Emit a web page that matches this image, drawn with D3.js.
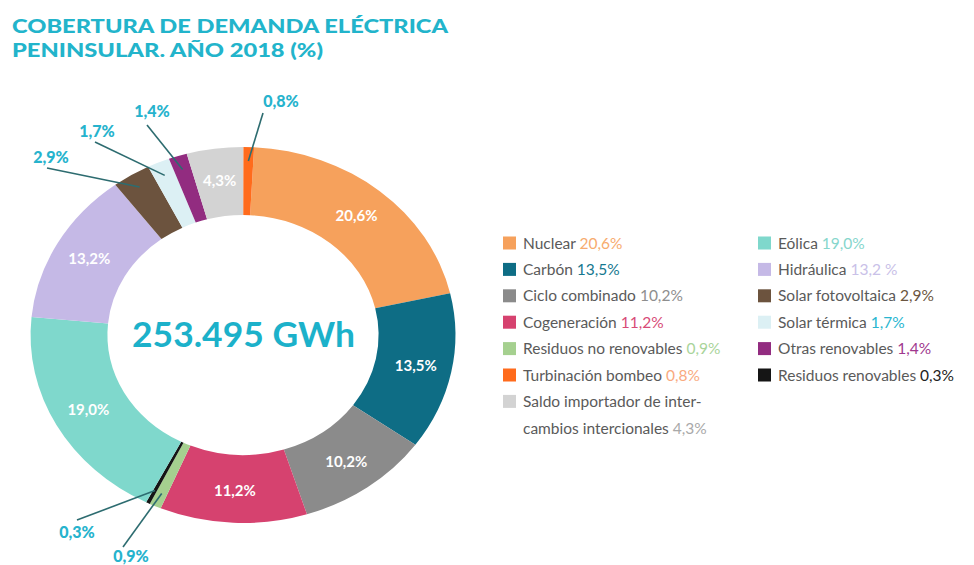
<!DOCTYPE html>
<html>
<head>
<meta charset="utf-8">
<script src="https://cdn.jsdelivr.net/npm/d3@7"></script>
<style>
  body { margin: 0; background: #fff; }
  svg { display: block; font-family: Lato, "Open Sans", sans-serif; }
</style>
</head>
<body>
<script>
// slices in drawing order (clockwise from top)
var categories = ["Nuclear", "Carbón", "Ciclo combinado", "Cogeneración", "Residuos no renovables",
    "Residuos renovables", "Eólica", "Hidráulica", "Solar fotovoltaica", "Solar térmica",
    "Otras renovables", "Saldo importador de intercambios intercionales", "Turbinación bombeo"];
var values = [20.6, 13.5, 10.2, 11.2, 0.9, 0.3, 19.0, 13.2, 2.9, 1.7, 1.4, 4.3, 0.8];
var colors = ["#f6a15c", "#0e6d85", "#8b8b8b", "#d6426f", "#a5d08f", "#151515", "#7fd8cc",
    "#c5b9e6", "#6c533e", "#dcf0f4", "#922c80", "#d3d3d3", "#ff6b1c"];
var valueColors = ["#f7ab6e", "#16788f", "#8e8e8e", "#d84a77", "#a9d49a", "#222222", "#86d6cc",
    "#c9c1e8", "#6b5640", "#29b6d0", "#a0388e", "#a9a9a9", "#f9aa80"];
var legendCol1 = ["Nuclear", "Carbón", "Ciclo combinado", "Cogeneración", "Residuos no renovables",
    "Turbinación bombeo", "Saldo importador de intercambios intercionales"];
var legendCol2 = ["Eólica", "Hidráulica", "Solar fotovoltaica", "Solar térmica", "Otras renovables",
    "Residuos renovables"];
var totalText = "253.495 GWh";
var titleLines = ["COBERTURA DE DEMANDA ELÉCTRICA", "PENINSULAR. AÑO 2018 (%)"];

// leader label placement for small slices, relative to the donut centre
var outsideLabels = {
    "Turbinación bombeo": { tx: 38, ty: -228, lx: 20, ly: -222 },
    "Otras renovables": { tx: -91, ty: -218, lx: -96, ly: -210 },
    "Solar térmica": { tx: -146, ty: -198, lx: -148, ly: -193 },
    "Solar fotovoltaica": { tx: -192, ty: -172, lx: -196, ly: -167 },
    "Residuos renovables": { tx: -166, ty: 203, lx: -166, ly: 185 },
    "Residuos no renovables": { tx: -112, ty: 227, lx: -120, ly: 212 }
};

var fmt = function (v) { return d3.format(".1f")(v).replace(".", ",") + "%"; };

var width = 974, height = 565;
var cx = 243, cy = 335, outerR = 188, innerR = 120, sx = 1.13;
var rotate = 3 * Math.PI / 180;

var svg = d3.select("body").append("svg")
    .attr("width", width)
    .attr("height", height);

// title
svg.append("g").selectAll("text")
    .data(titleLines)
    .enter().append("text")
    .attr("x", 12)
    .attr("y", function (d, i) { return 33 + i * 24; })
    .attr("textLength", function (d, i) { return i == 0 ? 436 : 311; })
    .attr("lengthAdjust", "spacingAndGlyphs")
    .attr("fill", "#22b4cb")
    .attr("font-size", 19)
    .attr("font-weight", 900)
    .text(function (d) { return d; });

var pie = d3.pie()
    .sort(null)
    .startAngle(rotate)
    .endAngle(rotate + 2 * Math.PI)
    .value(function (d, i) { return values[i]; });

var arcs = pie(categories);

var arc = d3.arc()
    .innerRadius(innerR)
    .outerRadius(outerR);

var chart = svg.append("g")
    .attr("transform", "translate(" + cx + "," + cy + ")");

chart.append("g")
    .attr("transform", "scale(" + sx + ",1)")
    .selectAll("path")
    .data(arcs)
    .enter().append("path")
    .attr("d", arc)
    .attr("fill", function (d, i) { return colors[i]; });

function polar(a, r) {
    return [Math.sin(a) * r * sx, -Math.cos(a) * r];
}

// inside labels
chart.append("g")
    .selectAll("text")
    .data(arcs.filter(function (d) { return d.value >= 4; }))
    .enter().append("text")
    .attr("transform", function (d) {
        var p = polar((d.startAngle + d.endAngle) / 2, 156);
        return "translate(" + p[0] + "," + p[1] + ")";
    })
    .attr("dy", "0.36em")
    .attr("text-anchor", "middle")
    .attr("fill", "#fff")
    .attr("font-size", 15)
    .attr("font-weight", 700)
    .text(function (d) { return fmt(d.value); });

// outside labels with leader lines
var small = arcs.filter(function (d) { return outsideLabels[d.data]; });

chart.append("g")
    .selectAll("line")
    .data(small)
    .enter().append("line")
    .attr("x1", function (d) { return outsideLabels[d.data].lx; })
    .attr("y1", function (d) { return outsideLabels[d.data].ly; })
    .attr("x2", function (d) { return polar((d.startAngle + d.endAngle) / 2, 174)[0]; })
    .attr("y2", function (d) { return polar((d.startAngle + d.endAngle) / 2, 174)[1]; })
    .attr("stroke", "#2d6c70")
    .attr("stroke-width", 1.6);

chart.append("g")
    .selectAll("text")
    .data(small)
    .enter().append("text")
    .attr("x", function (d) { return outsideLabels[d.data].tx; })
    .attr("y", function (d) { return outsideLabels[d.data].ty; })
    .attr("text-anchor", "middle")
    .attr("fill", "#26b3cd")
    .attr("font-size", 16)
    .attr("font-weight", 900)
    .text(function (d) { return fmt(d.value); });

// total in the hole
chart.append("text")
    .attr("x", -111)
    .attr("y", 12)
    .attr("textLength", 223)
    .attr("lengthAdjust", "spacingAndGlyphs")
    .attr("fill", "#1cb1ca")
    .attr("font-size", 35)
    .attr("font-weight", 700)
    .text(totalText);

// legend
function drawLegend(items, x0) {
    var g = svg.append("g").attr("transform", "translate(" + x0 + ",0)");
    var row = g.selectAll("g")
        .data(items)
        .enter().append("g")
        .attr("transform", function (d, i) { return "translate(0," + (243 + i * 26.4) + ")"; });

    row.append("rect")
        .attr("x", 0)
        .attr("y", -6.5)
        .attr("width", 13)
        .attr("height", 13)
        .attr("fill", function (d) { return colors[categories.indexOf(d)]; });

    row.each(function (d) {
        var i = categories.indexOf(d);
        var lines = d.indexOf("intercambios") > 0
            ? ["Saldo importador de inter-", "cambios intercionales"] : [d];
        var t = d3.select(this).append("text")
            .attr("x", 20)
            .attr("font-size", 15.5)
            .attr("fill", "#5a5a5a");
        lines.forEach(function (l, j) {
            var s = t.append("tspan")
                .attr("x", 20)
                .attr("y", 5.5 + j * 27)
                .text(l + " ");
            if (j == lines.length - 1) {
                t.append("tspan")
                    .attr("fill", valueColors[i])
                    .text(d == "Hidráulica" ? "13,2 %" : fmt(values[i]));
            }
        });
    });
}

drawLegend(legendCol1, 503);
drawLegend(legendCol2, 758);
</script>
</body>
</html>
